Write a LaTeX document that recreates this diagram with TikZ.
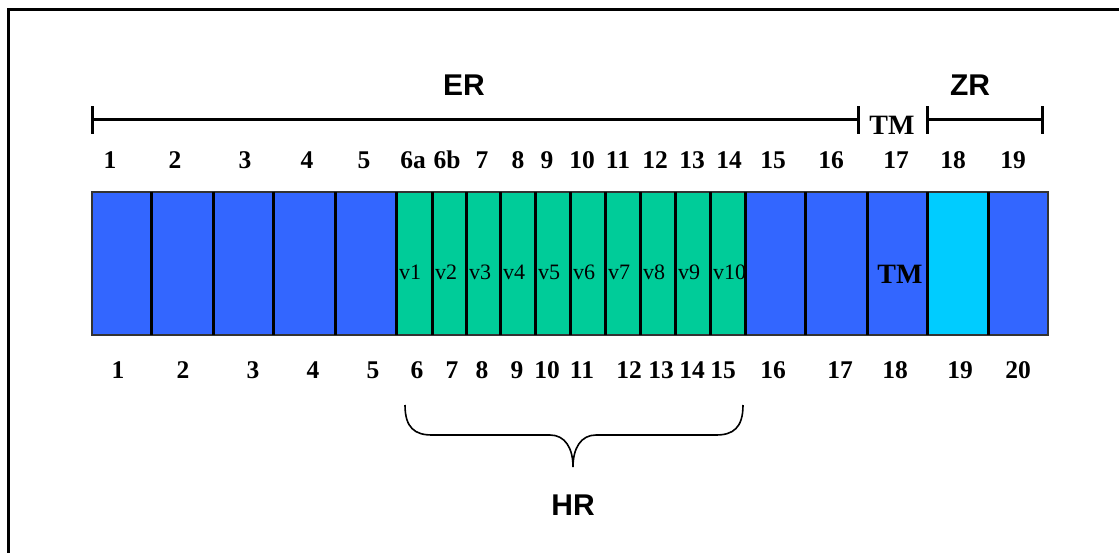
\documentclass[tikz,border=0pt]{standalone}
\usepackage{fontspec}
\setmainfont{Liberation Serif}
\setsansfont{Liberation Sans}
\definecolor{cblue}{HTML}{3366FF}
\definecolor{cgreen}{HTML}{00CC99}
\definecolor{ccyan}{HTML}{00CCFF}
\begin{document}
\begin{tikzpicture}[x=1pt,y=-1pt,
  cellbox/.style={rectangle,inner sep=0pt,outer sep=0pt,minimum height=143pt},
  numlbl/.style={font=\fontsize{25.5}{25.5}\selectfont\bfseries,inner sep=0pt},
  vlbl/.style={font=\fontsize{22}{22}\selectfont,inner sep=0pt,anchor=west},
  reglbl/.style={font=\fontsize{30}{30}\selectfont\sffamily\bfseries,inner sep=0pt},
  divider/.style={line width=3pt,black},
  barline/.style={line width=3pt,black},
  bracestyle/.style={line width=1.6pt,black}]
\useasboundingbox (0,0) rectangle (1119,553);
\draw[line width=3pt] (8,553) -- (8,10) -- (1119,10);
% cells
\foreach \i/\a/\b/\c in {1/92/151/cblue,2/151/213/cblue,3/213/273/cblue,4/273/335/cblue,5/335/396/cblue,
 6/396/432/cgreen,7/432/466/cgreen,8/466/500/cgreen,9/500/535/cgreen,10/535/570/cgreen,11/570/605/cgreen,
 12/605/640/cgreen,13/640/675/cgreen,14/675/710/cgreen,15/710/745/cgreen,
 16/745/805/cblue,17/805/867/cblue,18/867/927/cblue,19/927/988/ccyan,20/988/1048/cblue}{
  \pgfmathsetmacro{\w}{\b-\a}
  \pgfmathsetmacro{\m}{(\a+\b)/2}
  \node[cellbox,fill=\c,minimum width=\w pt] (c\i) at (\m,263.5) {};
}
% v labels
\foreach \i/\t in {6/v1,7/v2,8/v3,9/v4,10/v5,11/v6,12/v7,13/v8,14/v9,15/v10}{
  \node[vlbl] (l\i) at ([xshift=3pt]c\i.west |- 0,272) {\t};
}
\node[font=\fontsize{28}{28}\selectfont\bfseries,inner sep=0pt] (tmin) at (900,274) {TM};
% outer border and dividers
\draw[line width=1.3pt,black!80] (c1.north west) rectangle (c20.south east);
\foreach \i in {1,...,19}{
  \draw[divider] (c\i.north east) -- (c\i.south east);
}
% top numbers
\foreach \x/\t in {110/1,175/2,245/3,307/4,364/5,413/6a,447/6b,482/7,518/8,547/9,582/10,618/11,655/12,692/13,729/14,773/15,831/16,896/17,953/18,1013/19}{
  \node[numlbl] (t\t) at (\x,160) {\t};
}
% bottom numbers
\foreach \x/\t in {118/1,183/2,253/3,313/4,373/5,417/6,452/7,482/8,517/9,547/10,582/11,629/12,661/13,692/14,723/15,773/16,840/17,895/18,960/19,1018/20}{
  \node[numlbl] (b\t) at (\x,370) {\t};
}
% top bars
\coordinate (erl) at (92,120);
\coordinate (err) at (858,120);
\coordinate (zrl) at (927,120);
\coordinate (zrr) at (1042,120);
\draw[barline] (erl) -- (err);
\draw[barline] ([yshift=-14pt]erl) -- ([yshift=14pt]erl);
\draw[barline] ([yshift=-14pt]err) -- ([yshift=14pt]err);
\draw[barline] (zrl) -- (zrr);
\draw[barline] ([yshift=-14pt]zrl) -- ([yshift=14pt]zrl);
\draw[barline] ([yshift=-14pt]zrr) -- ([yshift=14pt]zrr);
\node[reglbl] (er) at (464,85) {ER};
\node[reglbl] (zr) at (970,85) {ZR};
\node[font=\fontsize{28}{28}\selectfont\bfseries,inner sep=0pt] (tmtop) at (892,125) {TM};
% brace
\coordinate (bl) at (405,405);
\coordinate (br) at (743,405);
\coordinate (btip) at (573,467);
\draw[bracestyle] (bl) .. controls (405,428) and (415,435) .. (432,435) -- (550,435)
  .. controls (565,435) and (573,448) .. (btip)
  .. controls (573,448) and (581,435) .. (596,435) -- (716,435)
  .. controls (733,435) and (743,428) .. (br);
\node[reglbl] (hr) at (573,505) {HR};
\end{tikzpicture}
\end{document}
